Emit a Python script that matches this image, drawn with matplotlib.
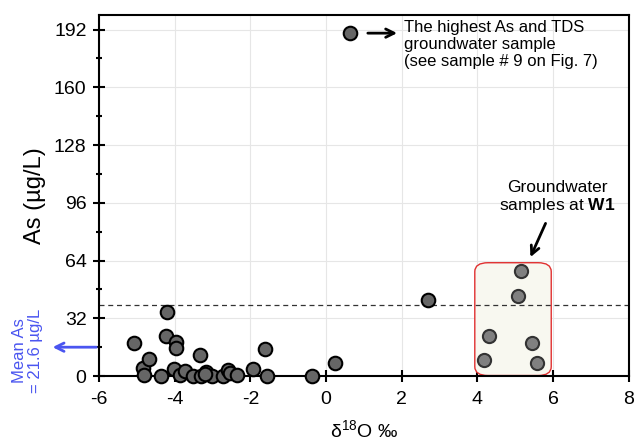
import matplotlib
matplotlib.use("Agg")
import matplotlib.pyplot as plt
from matplotlib.patches import FancyBboxPatch

plt.rcParams['font.family'] = ['Liberation Sans', 'DejaVu Sans']
plt.rcParams['mathtext.fontset'] = 'custom'
plt.rcParams['mathtext.rm'] = 'Liberation Sans'
plt.rcParams['mathtext.bf'] = 'Liberation Sans:bold'
plt.rcParams['axes.unicode_minus'] = False

# groundwater samples (delta 18O, As)
d18o = [-5.07, -4.83, -4.80, -4.67, -4.37, -4.21, -4.23, -3.97, -3.97, -4.02,
        -3.86, -3.73, -3.51, -3.34, -3.31, -3.16, -3.02, -3.20, -2.72, -2.58,
        -2.55, -2.36, -1.92, -1.62, -1.55, -0.37, 0.23, 0.63, 2.69]
arsenic = [18.1, 4.3, 0.5, 9.4, 0.0, 35.3, 22.4, 19.0, 15.3, 3.7,
           0.5, 3.0, 0.0, 11.6, 0.0, 2.4, 0.0, 1.0, 0.0, 3.3,
           1.5, 0.5, 3.9, 14.8, 0.2, 0.0, 7.0, 190.2, 42.2]

# samples at W1
w1_d18o = [5.14, 5.08, 4.31, 5.43, 4.17, 5.58]
w1_as = [58.4, 44.4, 22.2, 18.5, 8.9, 7.0]

as_limit = 39.4
mean_as_pos = 16

fig = plt.figure(figsize=(6.36, 4.44), dpi=100)
ax = fig.add_axes([0.1557, 0.153, 0.833, 0.813])

# W1 box
box = FancyBboxPatch((3.93, 0.3), 2.02, 62.5,
                     boxstyle="round,pad=0,rounding_size=0.35",
                     mutation_aspect=14,
                     facecolor='#f8f8f0', edgecolor='#e03030', linewidth=1.0, zorder=2)
ax.add_patch(box)

ax.axhline(as_limit, color='#333333', linestyle=(0, (4, 3)), linewidth=0.9, zorder=2)

ax.scatter(d18o, arsenic, s=95, facecolor='#666666', edgecolor='black', linewidth=1.5, zorder=4, clip_on=False)
ax.scatter(w1_d18o, w1_as, s=90, facecolor='#808080', edgecolor='#333333', linewidth=1.5, zorder=4)

ax.set_xlim(-6, 8)
ax.set_ylim(0, 200)
ax.set_xticks([-6, -4, -2, 0, 2, 4, 6, 8])
ax.set_yticks([0, 32, 64, 96, 128, 160, 192])
ax.set_yticks(range(16, 200, 32), minor=True)
ax.tick_params(axis='both', which='major', direction='inout', length=8, width=1.5, labelsize=14)
ax.tick_params(axis='y', which='minor', direction='inout', length=5, width=1.5)
ax.tick_params(axis='x', pad=7)
ax.tick_params(axis='y', pad=5)
ax.grid(True, which='major', color='#e6e6e6', linewidth=0.8)
ax.set_axisbelow(True)
for sp in ax.spines.values():
    sp.set_linewidth(1.5)

ax.set_ylabel('As (µg/L)', fontsize=17, labelpad=6)
ax.set_xlabel(r'δ$^{18}$O ‰', fontsize=14, labelpad=8)

# highest sample annotation
ax.annotate('', xy=(1.95, 190), xytext=(1.03, 190),
            arrowprops=dict(arrowstyle='->', color='black', lw=2, mutation_scale=15))
ax.text(2.06, 197.5, 'The highest As and TDS\ngroundwater sample\n(see sample # 9 on Fig. 7)',
        fontsize=12, va='top', ha='left', linespacing=1.2)

# W1 annotation
ax.text(6.12, 99, 'Groundwater\nsamples at $\\bf{W1}$', fontsize=12.5, ha='center', va='center',
        linespacing=1.05)
ax.annotate('', xy=(5.37, 64.5), xytext=(5.83, 86),
            arrowprops=dict(arrowstyle='->', color='black', lw=2, mutation_scale=15))

# mean As arrow
ax.annotate('', xy=(-7.3, mean_as_pos), xytext=(-6, mean_as_pos),
            arrowprops=dict(arrowstyle='->', color='#4a55f0', lw=2, mutation_scale=15),
            annotation_clip=False)
fig.text(0.043, 0.21, 'Mean As\n= 21.6 µg/L', rotation=90, color='#4a55f0', fontsize=12,
         ha='center', va='center', linespacing=1.05)

fig.savefig('out.png', dpi=100)
